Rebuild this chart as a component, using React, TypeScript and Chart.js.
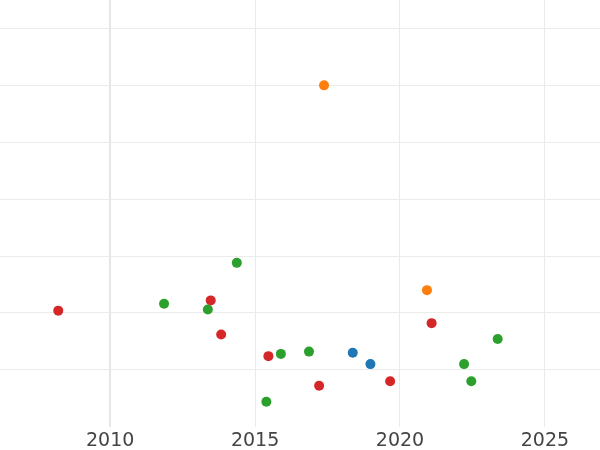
import React, { useEffect, useRef } from "react";
import { Chart, registerables } from "chart.js";

Chart.register(...registerables);

const blueX = [2018.37, 2018.98];
const blueY = [1.3, 1.1];
const orangeX = [2017.38, 2020.93];
const orangeY = [6.0, 2.4];
const greenX = [2011.86, 2013.37, 2014.37, 2015.39, 2015.89, 2016.86, 2022.21, 2022.46, 2023.37];
const greenY = [2.16, 2.06, 2.88, 0.44, 1.28, 1.32, 1.1, 0.8, 1.54];
const redX = [2008.21, 2013.47, 2013.83, 2015.46, 2017.21, 2019.66, 2021.09];
const redY = [2.04, 2.22, 1.62, 1.24, 0.72, 0.8, 1.82];

const xTicks = [2010, 2015, 2020, 2025];
const yTicks = [1, 2, 3, 4, 5, 6, 7];

const pts = (xs: number[], ys: number[]) => xs.map((x, i) => ({ x, y: ys[i] }));

export default function App() {
  const ref = useRef<HTMLCanvasElement>(null);
  useEffect(() => {
    document.body.style.margin = "0";
    const mk = (label: string, xs: number[], ys: number[], color: string) => ({
      label,
      data: pts(xs, ys),
      backgroundColor: color,
      borderColor: color,
      borderWidth: 0,
      pointRadius: 5,
    });
    const chart = new Chart(ref.current!, {
      type: "scatter",
      data: {
        datasets: [
          mk("blue", blueX, blueY, "#1f77b4"),
          mk("orange", orangeX, orangeY, "#ff7f0e"),
          mk("green", greenX, greenY, "#2ca02c"),
          mk("red", redX, redY, "#d62728"),
        ],
      },
      options: {
        responsive: false,
        animation: false,
        layout: { padding: 0, autoPadding: false },
        plugins: { legend: { display: false }, tooltip: { enabled: false } },
        scales: {
          x: {
            type: "linear",
            min: 2006.2,
            max: 2026.9,
            border: { display: false },
            grid: {
              drawTicks: false,
              color: (c: any) => (c.tick && c.tick.value === 2010 ? "#e6e6e6" : "#ebebeb"),
              lineWidth: (c: any) => (c.tick && c.tick.value === 2010 ? 2 : 1),
            },
            afterBuildTicks: (s: any) => {
              s.ticks = xTicks.map((v) => ({ value: v }));
            },
            afterFit: (s: any) => {
              s.height = 23.3;
            },
            ticks: {
              padding: 3,
              color: "#444444",
              font: { family: "DejaVu Sans", size: 19 },
              callback: (v: any) => String(v),
            },
          },
          y: {
            type: "linear",
            min: 0,
            max: 7.5,
            border: { display: false },
            grid: {
              drawTicks: false,
              color: "#ebebeb",
            },
            afterBuildTicks: (s: any) => {
              s.ticks = yTicks.map((v) => ({ value: v }));
            },
            ticks: { display: false },
            afterFit: (s: any) => {
              s.width = 0;
            },
          },
        },
      },
    });
    return () => chart.destroy();
  }, []);
  return <canvas ref={ref} width={600} height={450} style={{ display: "block" }} />;
}
